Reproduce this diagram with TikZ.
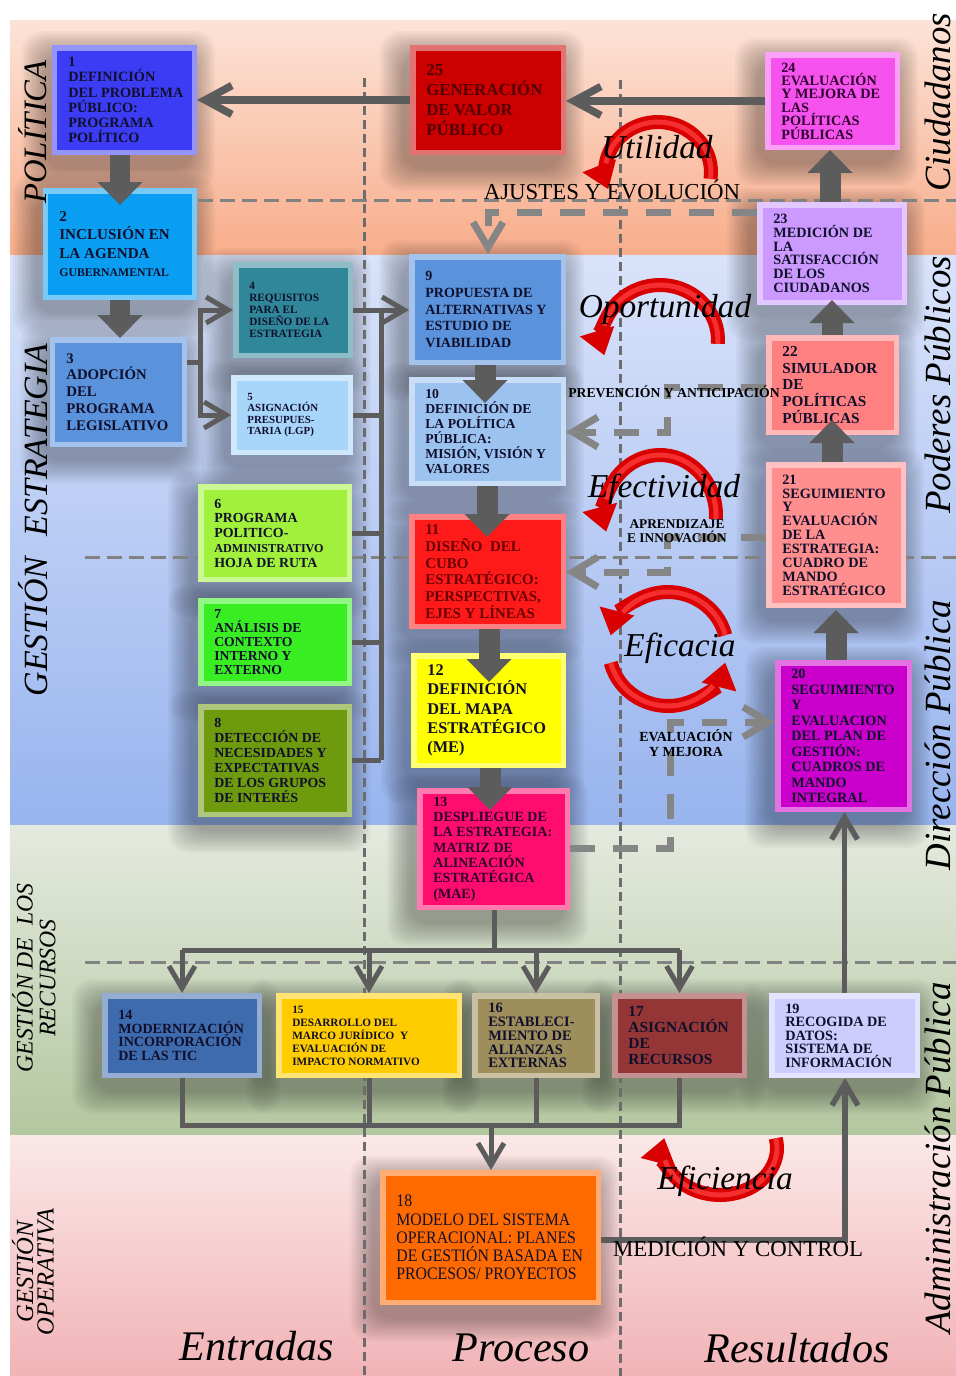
\documentclass[tikz,border=0pt]{standalone}
\usepackage{fontspec}
\setmainfont{Liberation Serif}
\newfontfamily\condserif[FakeStretch=0.9]{Liberation Serif}
\usetikzlibrary{arrows.meta,fit}

% band colours
\definecolor{polA}{HTML}{FCE3D7}
\definecolor{polB}{HTML}{F8AD8B}
\definecolor{estA}{HTML}{D9E3FA}
\definecolor{estB}{HTML}{98B4EE}
\definecolor{recA}{HTML}{E5EADF}
\definecolor{recB}{HTML}{B3C79F}
\definecolor{opeA}{HTML}{FBE8E8}
\definecolor{opeB}{HTML}{F1B3B6}
% lines and text
\definecolor{gridc}{HTML}{6C6C6C}
\definecolor{arrgray}{HTML}{5C5C5C}
\definecolor{fbgray}{HTML}{858585}
\definecolor{txt}{HTML}{10102C}
\definecolor{txtred}{HTML}{6A0000}
\definecolor{txtmaroon}{HTML}{520000}
\definecolor{txtpurple}{HTML}{300030}
\definecolor{arcred}{HTML}{D80000}
\definecolor{arclite}{HTML}{FF4040}
% box fills
\definecolor{c1}{HTML}{3C3CF5}
\definecolor{c2}{HTML}{0A9EF2}
\definecolor{c3}{HTML}{5A92DC}
\definecolor{c4}{HTML}{31879A}
\definecolor{c5}{HTML}{A8D5FA}
\definecolor{c6}{HTML}{A0F03C}
\definecolor{c7}{HTML}{38EE22}
\definecolor{c8}{HTML}{6E9A0E}
\definecolor{c9}{HTML}{5A92DC}
\definecolor{c10}{HTML}{9CC2F0}
\definecolor{c11}{HTML}{FF1A1A}
\definecolor{c12}{HTML}{FFFF00}
\definecolor{c13}{HTML}{FF0D6E}
\definecolor{c14}{HTML}{3E6AAE}
\definecolor{c15}{HTML}{FFCC00}
\definecolor{c16}{HTML}{9E8E5C}
\definecolor{c17}{HTML}{953636}
\definecolor{c18}{HTML}{FF6A00}
\definecolor{c19}{HTML}{CDCDFD}
\definecolor{c20}{HTML}{CC00CC}
\definecolor{c21}{HTML}{FF8E8E}
\definecolor{c22}{HTML}{FF8080}
\definecolor{c23}{HTML}{CC99FF}
\definecolor{c24}{HTML}{F552EE}
\definecolor{c25}{HTML}{CC0000}

\pgfdeclarelayer{bg}
\pgfdeclarelayer{shadow}
\pgfdeclarelayer{grid}
\pgfsetlayers{bg,shadow,grid,main}

\newcommand\bxf[2]{\fontsize{#1}{#2}\selectfont\bfseries}

% bevelled box with soft shadow: name, x1, y1, x2, y2, fill, text options, text
\newcommand\bx[8]{%
  \begin{pgfonlayer}{shadow}
    \foreach \g in {0,2,...,22}{%
      \fill[black,opacity=0.028,rounded corners=4mm]
        (#2-8-\g,#3+8-\g) rectangle (#4-4+\g,#5+14+\g);}
  \end{pgfonlayer}
  \node[box, fill=#6!55!white, fit={(#2,#3)(#4,#5)},
        path picture={\fill[#6]
          ([shift={(1.1mm,-1.1mm)}]path picture bounding box.north west) rectangle
          ([shift={(-1.1mm,1.1mm)}]path picture bounding box.south east);}] (#1) {};
  \node[btxt, anchor=west, #7] (#1t) at ([xshift=3.2mm]#1.west) {#8};
}

% circular red arrow with a lighter core
\newcommand\redarc[7]{%
  \draw[redarc] (#1,#2) ++(#5:#3 and #4)
    arc[start angle=#5, end angle=#6, x radius=#3, y radius=#4];
  \draw[arcglow] (#1,#2) ++(#5:#3 and #4)
    arc[start angle=#5, end angle=#7, x radius=#3, y radius=#4];
}

\tikzset{
  box/.style={rectangle, inner sep=0pt, outer sep=0pt},
  btxt/.style={align=left, inner sep=0pt, text=txt},
  bigarr/.style={draw=arrgray, line width=4.2mm,
    -{Triangle[width=9mm,length=4.6mm,line width=0pt]}},
  conn/.style={draw=arrgray, line width=1mm,
    -{Straight Barb[length=4.4mm,width=5.2mm]}},
  connline/.style={draw=arrgray, line width=1mm},
  topconn/.style={draw=arrgray, line width=1.5mm,
    -{Straight Barb[length=5.4mm,width=5.8mm]}},
  fb/.style={draw=fbgray, line width=1.4mm, dash pattern=on 5mm off 3.6mm,
    -{Straight Barb[length=5mm,width=6mm]}},
  gridv/.style={draw=gridc, line width=0.6mm, dash pattern=on 1.8mm off 1mm},
  gridh/.style={draw=gridc!85!white, line width=0.6mm, dash pattern=on 3mm off 1.4mm},
  redarc/.style={draw=arcred, line width=2.8mm,
    -{Triangle[width=7.2mm,length=5mm,line width=0pt]}},
  arcglow/.style={draw=arclite, line width=1mm, opacity=.75},
  midlab/.style={inner sep=1pt, text=black},
  arclab/.style={inner sep=0pt, font=\fontsize{19}{19}\selectfont\itshape},
  sidelab/.style={rotate=90, inner sep=0pt, font=\fontsize{21}{21}\selectfont\itshape},
  leftlab/.style={rotate=90, inner sep=0pt, align=center},
  botlab/.style={inner sep=0pt, font=\fontsize{24}{24}\selectfont\itshape},
}

\begin{document}
\begin{tikzpicture}[x=0.02cm,y=-0.02cm]
\useasboundingbox (0,0) rectangle (956,1376);

% ---- horizontal bands ----
\begin{pgfonlayer}{bg}
  \fill[white] (0,0) rectangle (956,1376);
  \shade[top color=polA,bottom color=polB] (10,20) rectangle (956,255);
  \shade[top color=estA,bottom color=estB] (10,255) rectangle (956,825);
  \shade[top color=recA,bottom color=recB] (10,825) rectangle (956,1135);
  \shade[top color=opeA,bottom color=opeB] (10,1135) rectangle (956,1376);
\end{pgfonlayer}

% ---- dashed grid ----
\begin{pgfonlayer}{grid}
  \draw[gridv] (364,78) -- (364,1376);
  \draw[gridv] (620,80) -- (620,1376);
  \draw[gridh] (198,200) -- (956,200);
  \draw[gridh] (85,557) -- (956,557);
  \draw[gridh] (85,962) -- (956,962);
\end{pgfonlayer}

% ---- boxes ----
\bx{b1}{52}{45}{197}{155}{c1}{font=\bxf{8.1}{8.6}}{1\\DEFINICIÓN\\DEL PROBLEMA\\PÚBLICO:\\PROGRAMA\\POLÍTICO}
\bx{b2}{43}{188}{197}{300}{c2}{font=\bxf{8.6}{10.6}}{2\\INCLUSIÓN EN\\LA AGENDA\\{\fontsize{6.7}{8}\selectfont GUBERNAMENTAL}}
\bx{b3}{50}{337}{187}{447}{c3}{font=\bxf{8.4}{9.6}}{3\\ADOPCIÓN\\DEL\\PROGRAMA\\LEGISLATIVO}
\bx{b4}{233}{262}{353}{358}{c4}{font=\bxf{6.4}{6.8}}{4\\REQUISITOS\\PARA EL\\DISEÑO DE LA\\ESTRATEGIA}
\bx{b5}{231}{375}{353}{455}{c5}{font=\bxf{6.2}{6.6}}{5\\ASIGNACIÓN\\PRESUPUES-\\TARIA (LGP)}
\bx{b6}{198}{484}{352}{582}{c6}{font=\bxf{7.9}{8.4}}{6\\PROGRAMA\\POLITICO-\\{\fontsize{6.9}{8}\selectfont ADMINISTRATIVO}\\HOJA DE RUTA}
\bx{b7}{198}{598}{352}{686}{c7}{font=\bxf{7.8}{7.9}}{7\\ANÁLISIS DE\\CONTEXTO\\INTERNO Y\\EXTERNO}
\bx{b8}{198}{704}{352}{817}{c8}{font=\bxf{7.9}{8.5}}{8\\DETECCIÓN DE\\NECESIDADES Y\\EXPECTATIVAS\\DE LOS GRUPOS\\DE INTERÉS}
\bx{b9}{409}{254}{566}{365}{c9}{font=\bxf{8}{9.5}}{9\\PROPUESTA DE\\ALTERNATIVAS Y\\ESTUDIO DE\\VIABILIDAD}
\bx{b10}{409}{377}{566}{486}{c10}{font=\bxf{7.8}{8.5}}{10\\DEFINICIÓN DE\\LA POLÍTICA\\PÚBLICA:\\MISIÓN, VISIÓN Y\\VALORES}
\bx{b11}{409}{514}{566}{629}{c11}{font=\bxf{8.5}{9.5}, text=txtred}{11\\DISEÑO \ DEL\\CUBO\\ESTRATÉGICO:\\PERSPECTIVAS,\\EJES Y LÍNEAS}
\bx{b12}{411}{653}{566}{768}{c12}{font=\bxf{9.3}{11}}{12\\DEFINICIÓN\\DEL MAPA\\ESTRATÉGICO\\(ME)}
\bx{b13}{417}{788}{570}{910}{c13}{font=\bxf{8}{8.7}, text=txtpurple}{13\\DESPLIEGUE DE\\LA ESTRATEGIA:\\MATRIZ DE\\ALINEACIÓN\\ESTRATÉGICA\\(MAE)}
\bx{b14}{102}{993}{262}{1078}{c14}{font=\bxf{8}{7.8}}{14\\MODERNIZACIÓN\\INCORPORACIÓN\\DE LAS TIC}
\bx{b15}{276}{993}{462}{1078}{c15}{font=\bxf{6.4}{7.4}}{15\\DESARROLLO DEL\\MARCO JURÍDICO \ Y\\EVALUACIÓN DE\\IMPACTO NORMATIVO}
\bx{b16}{472}{993}{600}{1078}{c16}{font=\bxf{8.2}{7.9}}{16\\ESTABLECI-\\MIENTO DE\\ALIANZAS\\EXTERNAS}
\bx{b17}{612}{993}{747}{1078}{c17}{font=\bxf{8.8}{9.2}}{17\\ASIGNACIÓN\\DE\\RECURSOS}
\bx{b18}{380}{1170}{601}{1305}{c18}{font=\condserif\fontsize{10}{10.4}\selectfont}{18\\MODELO DEL SISTEMA\\OPERACIONAL: PLANES\\DE GESTIÓN BASADA EN\\PROCESOS/ PROYECTOS}
\bx{b19}{769}{993}{920}{1078}{c19}{font=\bxf{8.1}{7.7}}{19\\RECOGIDA DE\\DATOS:\\SISTEMA DE\\INFORMACIÓN}
\bx{b20}{775}{660}{912}{812}{c20}{font=\bxf{8.1}{8.8}}{20\\SEGUIMIENTO\\Y\\EVALUACION\\DEL PLAN DE\\GESTIÓN:\\CUADROS DE\\MANDO\\INTEGRAL}
\bx{b21}{766}{462}{906}{608}{c21}{font=\bxf{8.1}{7.9}}{21\\SEGUIMIENTO\\Y\\EVALUACIÓN\\DE LA\\ESTRATEGIA:\\CUADRO DE\\MANDO\\ESTRATÉGICO}
\bx{b22}{766}{335}{899}{435}{c22}{font=\bxf{8.7}{9.5}}{22\\SIMULADOR\\DE\\POLÍTICAS\\PÚBLICAS}
\bx{b23}{757}{202}{907}{305}{c23}{font=\bxf{8.1}{7.8}}{23\\MEDICIÓN DE\\LA\\SATISFACCIÓN\\DE LOS\\CIUDADANOS}
\bx{b24}{765}{52}{900}{150}{c24}{font=\bxf{8.1}{7.6}, text=txtpurple}{24\\EVALUACIÓN\\Y MEJORA DE\\LAS\\POLÍTICAS\\PÚBLICAS}
\bx{b25}{410}{45}{566}{155}{c25}{font=\bxf{9.6}{11.4}, text=txtmaroon}{25\\GENERACIÓN\\DE VALOR\\PÚBLICO}

% ---- block arrows between stages ----
\coordinate (t2) at (120,205);
\coordinate (t3) at (120,338);
\coordinate (t10) at (485,403);
\coordinate (t11) at (487,537);
\coordinate (t12) at (489,682);
\coordinate (t13) at (490,810);
\coordinate (t24) at (830,150);
\coordinate (t23) at (832,300);
\coordinate (t22) at (832,420);
\coordinate (t21) at (836,610);
\draw[bigarr] (b1.south -| t2) -- (t2);
\draw[bigarr] (b2.south -| t3) -- (t3);
\draw[bigarr] (b9.south -| t10) -- (t10);
\draw[bigarr] (b10.south -| t11) -- (t11);
\draw[bigarr] (b11.south -| t12) -- (t12);
\draw[bigarr] (b12.south -| t13) -- (t13);
\draw[bigarr] (b23.north -| t24) -- (t24);
\draw[bigarr] (b22.north -| t23) -- (t23);
\draw[bigarr] (b21.north -| t22) -- (t22);
\draw[bigarr] (b20.north -| t21) -- (t21);

% ---- top return line ----
\draw[topconn] (b24.west) -- (b24.west -| b25.east);
\draw[topconn] (b25.west) -- (b25.west -| b1.east);

% ---- legislative programme branches ----
\coordinate (j3) at (200,362);
\draw[connline] (b3.east |- j3) -- (j3);
\draw[conn] (j3) |- (b4.west);
\draw[conn] (j3) |- (b5.west);

% ---- inputs bus into the proposal ----
\coordinate (bus) at (381,760);
\draw[connline] (b4.east -| bus) -- (bus);
\foreach \n in {b5,b6,b7,b8} \draw[connline] (\n.east) -- (\n.east -| bus);
\draw[conn] (b4.east) -- (b4.east -| b9.west);

% ---- feedback loops ----
\coordinate (aj) at (488,212);
\draw[fb] (b23.west |- aj) -- (aj) -- (aj |- b9.north);
\coordinate (pv1) at (667,387);
\coordinate (pv2) at (667,432);
\draw[fb] (b22.west |- pv1) -- (pv1) -- (pv2) -- (pv2 -| b10.east);
\coordinate (ap1) at (667,537);
\coordinate (ap2) at (667,572);
\draw[fb] (b21.west |- ap1) -- (ap1) -- (ap2) -- (ap2 -| b11.east);
\coordinate (ev1) at (670,848);
\coordinate (ev2) at (670,722);
\draw[fb] (b13.east |- ev1) -- (ev1) -- (ev2) -- (ev2 -| b20.west);

% ---- resources distribution ----
\coordinate (dist) at (494,950);
\draw[connline] (b13.south -| dist) -- (dist);
\draw[connline] (b14.north |- dist) -- (b17.north |- dist);
\foreach \n in {b14,b15,b16,b17} \draw[conn] (\n.north |- dist) -- (\n.north);
\coordinate (col) at (491,1125);
\draw[connline] (b14.south) -- (b14.south |- col) -- (b17.south |- col) -- (b17.south);
\draw[connline] (b15.south) -- (b15.south |- col);
\draw[connline] (b16.south) -- (b16.south |- col);
\draw[conn] (col) -- (col |- b18.north);

% ---- measurement and control ----
\coordinate (mc) at (845,1240);
\draw[conn, line width=1.1mm] (b18.east |- mc) -- (mc) -- (mc |- b19.south);
\draw[conn, line width=1.1mm] (b19.north) -- (b19.north |- b20.south);

% ---- red cycle arrows ----
\redarc{658}{172}{10.6mm}{10mm}{-8}{200}{170}
\redarc{660}{340}{11.6mm}{11mm}{-4}{196}{165}
\redarc{660}{515}{11.2mm}{12mm}{-4}{196}{165}
\redarc{668}{649}{11.8mm}{11.4mm}{14}{166}{140}
\redarc{668}{649}{11.8mm}{11.4mm}{194}{346}{320}
\redarc{720}{1148}{11.4mm}{9.4mm}{12}{-192}{-165}

% ---- loop labels ----
\node[midlab, font=\fontsize{13}{13}\selectfont] (lajus) at (612,190) {AJUSTES Y EVOLUCIÓN};
\node[midlab, font=\bxf{7.8}{8}] (lprev) at (674,392) {PREVENCIÓN Y ANTICIPACIÓN};
\node[midlab, font=\bxf{7.6}{8.2}, align=center] (lapr) at (677,531) {APRENDIZAJE\\E INNOVACIÓN};
\node[midlab, font=\bxf{7.9}{8.4}, align=center] (leval) at (686,743) {EVALUACIÓN\\Y MEJORA};
\node[midlab, font=\fontsize{13}{13}\selectfont] (lmed) at (738,1247) {MEDICIÓN Y CONTROL};

\node[arclab] (lutil) at (657,147) {Utilidad};
\node[arclab] (lopor) at (665,309) {Oportunidad};
\node[arclab] (lefect) at (664,489) {Efectividad};
\node[arclab] (leficaz) at (680,648) {Eficacia};
\node[arclab] (leficien) at (725,1181) {Eficiencia};

% ---- side captions ----
\node[leftlab, font=\fontsize{18.6}{20}\selectfont\itshape] (lpol) at (33,132) {POLÍTICA};
\node[leftlab, font=\fontsize{19.3}{20}\selectfont\itshape] (lest) at (33,520) {GESTIÓN\hspace{0.6em}ESTRATEGIA};
\node[leftlab, font=\fontsize{13.5}{13}\selectfont\itshape] (lrec) at (34,978) {GESTIÓN DE\ \ LOS\\RECURSOS};
\node[leftlab, font=\fontsize{14}{11.6}\selectfont\itshape] (lope) at (33,1272) {GESTIÓN\\OPERATIVA};

\node[sidelab] (rciu) at (938,102) {Ciudadanos};
\node[sidelab] (rpod) at (938,385) {Poderes Públicos};
\node[sidelab] (rdir) at (938,735) {Dirección Pública};
\node[sidelab] (radm) at (938,1158) {Administración Pública};

\node[botlab] (lent) at (257,1346) {Entradas};
\node[botlab] (lpro) at (521,1348) {Proceso};
\node[botlab] (lres) at (797,1348) {Resultados};
\end{tikzpicture}
\end{document}
